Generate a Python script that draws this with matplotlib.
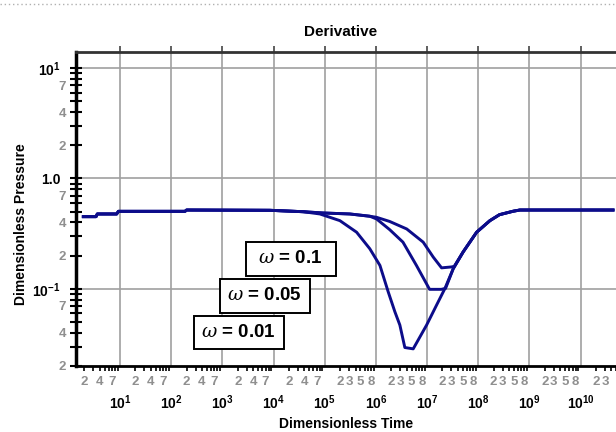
import matplotlib
matplotlib.use("Agg")
import matplotlib.pyplot as plt
from matplotlib.patches import Rectangle
from matplotlib.lines import Line2D
from matplotlib.ticker import FixedLocator, FixedFormatter

plt.rcParams['font.family'] = ['Liberation Sans', 'DejaVu Sans']
plt.rcParams['mathtext.fontset'] = 'custom'
plt.rcParams['mathtext.rm'] = 'Liberation Sans:bold'
plt.rcParams['mathtext.bf'] = 'Liberation Sans:bold'
plt.rcParams['mathtext.it'] = 'DejaVu Serif:italic'

# curve data (dimensionless time, derivative)
t_early = [1.92, 3.4, 3.6, 8.6, 9.3, 186, 200, 8.5e3, 3.8e4]
d_early = [0.451, 0.451, 0.477, 0.477, 0.504, 0.504, 0.518, 0.515, 0.50]

t_late = [5.07e7, 9.3e7, 1.69e8, 2.6e8, 4.8e8, 6.5e8, 4.3e10]
d_late = [0.216, 0.326, 0.415, 0.47, 0.505, 0.518, 0.518]

t_dip_001 = [8.05e4, 1.98e5, 4.2e5, 7.6e5, 1.2e6, 1.74e6, 2.35e6, 2.94e6,
             3.68e6, 5.36e6, 9.8e6, 1.53e7, 2.23e7, 3.24e7]
d_dip_001 = [0.477, 0.415, 0.326, 0.231, 0.163, 0.094, 0.062, 0.047,
             0.0294, 0.0286, 0.047, 0.0711, 0.1006, 0.152]

t_dip_005 = [9.3e4, 3.1e5, 7.6e5, 1.03e6, 1.86e6, 3.38e6, 6.2e6, 1.12e7,
             1.9e7, 2.3e7, 3.24e7]
d_dip_005 = [0.487, 0.477, 0.455, 0.43, 0.344, 0.265, 0.163, 0.099,
             0.099, 0.101, 0.152]

t_dip_01 = [9.3e4, 3.1e5, 7.6e5, 1.03e6, 1.86e6, 4.0e6, 8.4e6, 1.32e7,
            1.92e7, 3.0e7, 3.4e7]
d_dip_01 = [0.487, 0.477, 0.455, 0.445, 0.408, 0.349, 0.265, 0.194,
            0.155, 0.158, 0.16]

omega_labels = [r'$\omega$ = 0.1', r'$\omega$ = 0.05', r'$\omega$ = 0.01']

W, H = 616, 432
fig = plt.figure(figsize=(W / 100, H / 100), dpi=100)
ax = fig.add_axes([76 / W, 1 - 366 / H, (642 - 76) / W, (366 - 52) / H])

line_color = '#0c0c8a'
for td, dd in [(t_dip_001, d_dip_001), (t_dip_005, d_dip_005), (t_dip_01, d_dip_01)]:
    t = t_early + td + t_late
    d = d_early + dd + d_late
    ax.plot(t, d, color=line_color, lw=2.1, solid_joinstyle='round', zorder=3)

ax.set_xscale('log')
ax.set_yscale('log')
ax.set_xlim(10 ** 0.14, 10 ** 11.2)
ax.set_ylim(0.02, 14)

# x ticks (labels past the picture's right edge are left blank)
x_major = [10.0 ** k for k in range(1, 12)]
x_major_lab = [r'$\mathbf{10^{%d}}$' % k if k < 11 else '' for k in range(1, 12)]
x_minor, x_minor_lab = [], []
for k in range(0, 11):
    shown = (2, 4, 7) if k < 5 else (2, 3, 5, 8)
    if k == 10:
        shown = (2, 3)
    for m in range(2, 10):
        x_minor.append(m * 10.0 ** k)
        x_minor_lab.append(str(m) if m in shown else '')
ax.xaxis.set_major_locator(FixedLocator(x_major))
ax.xaxis.set_major_formatter(FixedFormatter(x_major_lab))
ax.xaxis.set_minor_locator(FixedLocator(x_minor))
ax.xaxis.set_minor_formatter(FixedFormatter(x_minor_lab))

# y ticks
y_major = [0.1, 1.0, 10.0]
y_major_lab = [r'$\mathbf{10^{-1}}$', '1.0', r'$\mathbf{10^{1}}$']
y_minor, y_minor_lab = [], []
for k in (-2, -1, 0):
    for m in range(2, 10):
        y_minor.append(m * 10.0 ** k)
        y_minor_lab.append(str(m) if m in (2, 4, 7) else '')
ax.yaxis.set_major_locator(FixedLocator(y_major))
ax.yaxis.set_major_formatter(FixedFormatter(y_major_lab))
ax.yaxis.set_minor_locator(FixedLocator(y_minor))
ax.yaxis.set_minor_formatter(FixedFormatter(y_minor_lab))

grey = '#8f8f8f'
ax.tick_params(axis='x', which='minor', direction='out', length=3.5, width=1.2,
               pad=3.5, labelsize=9.5, labelcolor=grey, color='black')
ax.tick_params(axis='x', which='major', direction='out', length=4, width=1.2,
               pad=16, labelsize=10, top=True, color='#444444')
ax.tick_params(axis='y', which='minor', direction='inout', length=8, width=1.5,
               pad=3, labelsize=9.5, labelcolor=grey)
ax.tick_params(axis='y', which='major', direction='inout', length=8, width=1.5,
               pad=7, labelsize=10)
for lab in ax.get_xticklabels(which='both') + ax.get_yticklabels(which='both'):
    lab.set_fontweight('bold')
for tk in ax.xaxis.get_major_ticks():
    tk.tick1line.set_markersize(0)

ax.grid(True, which='major', color='#a0a0a0', lw=1.2)
ax.set_axisbelow(True)

ax.spines['left'].set_linewidth(2.5)
ax.spines['bottom'].set_linewidth(2.0)
ax.spines['top'].set_linewidth(2.0)
ax.spines['top'].set_color('#333333')
ax.spines['right'].set_visible(False)

# titles
fig.text(341 / W, 1 - 32 / H, 'Derivative', ha='center', va='center',
         fontsize=11, fontweight='bold')
fig.text(346 / W, 1 - 424 / H, 'Dimensionless Time', ha='center', va='center',
         fontsize=10, fontweight='bold')
fig.text(21 / W, 1 - 224 / H, 'Dimensionless Pressure', ha='center', va='center',
         rotation=90, fontsize=10, fontweight='bold')

# omega boxes
boxes = [(245.7, 242, 90, 33.7), (220, 279, 90, 33.7), (194.3, 316, 90, 33.3)]
for (bx, by, bw, bh), lab in zip(boxes, omega_labels):
    fig.patches.append(Rectangle((bx / W, 1 - (by + bh) / H), bw / W, bh / H,
                                 transform=fig.transFigure, facecolor='white',
                                 edgecolor='black', lw=1.4, zorder=5))
    fig.text((bx + bw / 2 - 1) / W, 1 - (by + bh / 2) / H, lab, ha='center',
             va='center', fontsize=13.5, fontweight='bold', zorder=6)

# dotted rule at the very top
fig.lines.append(Line2D([0, 1], [1 - 4 / H, 1 - 4 / H], transform=fig.transFigure,
                        color='#b0b0b0', lw=1, ls=(0, (1, 2))))

fig.savefig('out.png', dpi=100)
